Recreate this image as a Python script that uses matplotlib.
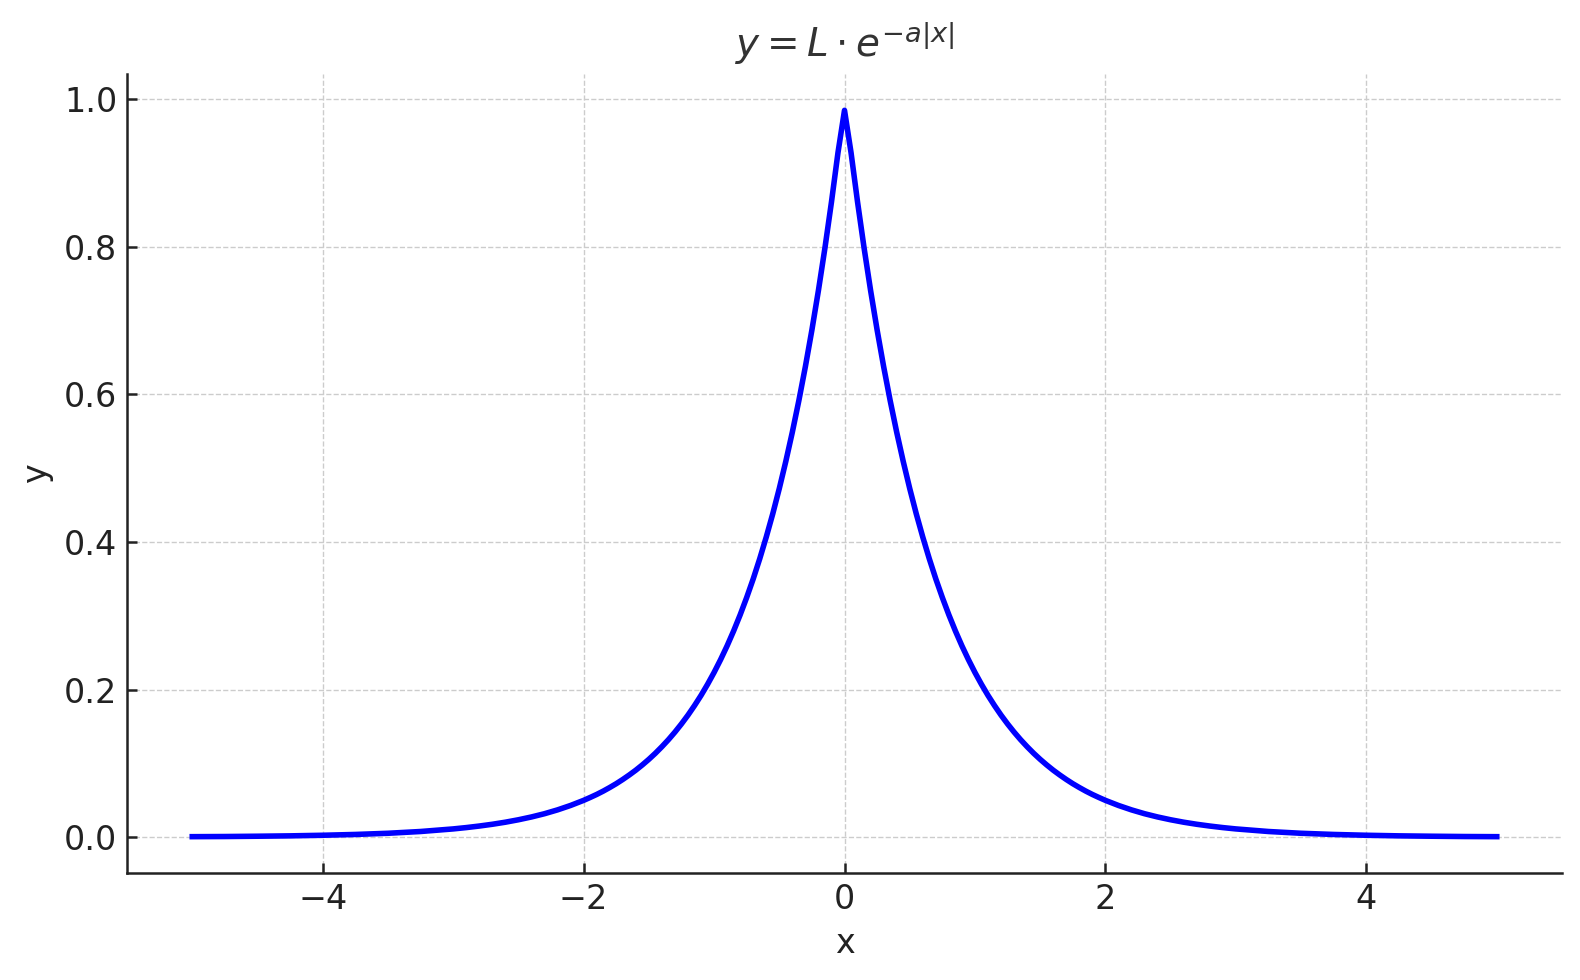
import matplotlib.pyplot as plt

# values (peak at x=0, symmetric decay)
x_vals = [-5.0, -4.75, -4.5, -4.25, -4.0, -3.75, -3.5, -3.25, -3.0, -2.9, -2.8, -2.7,
          -2.6, -2.5, -2.4, -2.3, -2.2, -2.1, -2.0, -1.95, -1.9, -1.85, -1.8, -1.75,
          -1.7, -1.65, -1.6, -1.55, -1.5, -1.45, -1.4, -1.35, -1.3, -1.25, -1.2, -1.15,
          -1.1, -1.05, -1.0, -0.95, -0.9, -0.85, -0.8, -0.75, -0.7, -0.65, -0.6, -0.55,
          -0.5, -0.45, -0.4, -0.35, -0.3, -0.25, -0.2, -0.15, -0.1, -0.05, 0.0,
          0.05, 0.1, 0.15, 0.2, 0.25, 0.3, 0.35, 0.4, 0.45, 0.5, 0.55, 0.6, 0.65, 0.7,
          0.75, 0.8, 0.85, 0.9, 0.95, 1.0, 1.05, 1.1, 1.15, 1.2, 1.25, 1.3, 1.35, 1.4,
          1.45, 1.5, 1.55, 1.6, 1.65, 1.7, 1.75, 1.8, 1.85, 1.9, 1.95, 2.0, 2.1, 2.2,
          2.3, 2.4, 2.5, 2.6, 2.7, 2.8, 2.9, 3.0, 3.25, 3.5, 3.75, 4.0, 4.25, 4.5,
          4.75, 5.0]
y_vals = [0.0006, 0.0008, 0.0012, 0.0017, 0.0025, 0.0036, 0.0052, 0.0076, 0.0111, 0.0129,
          0.0150, 0.0174, 0.0202, 0.0235, 0.0273, 0.0317, 0.0369, 0.0429, 0.0498, 0.0537,
          0.0578, 0.0623, 0.0672, 0.0724, 0.0781, 0.0842, 0.0907, 0.0978, 0.1054, 0.1136,
          0.1225, 0.1320, 0.1423, 0.1534, 0.1653, 0.1782, 0.1920, 0.2070, 0.2231, 0.2405,
          0.2592, 0.2794, 0.3012, 0.3247, 0.3499, 0.3772, 0.4066, 0.4382, 0.4724, 0.5092,
          0.5488, 0.5916, 0.6376, 0.6873, 0.7408, 0.7985, 0.8607, 0.9277, 0.985,
          0.9277, 0.8607, 0.7985, 0.7408, 0.6873, 0.6376, 0.5916, 0.5488, 0.5092, 0.4724,
          0.4382, 0.4066, 0.3772, 0.3499, 0.3247, 0.3012, 0.2794, 0.2592, 0.2405, 0.2231,
          0.2070, 0.1920, 0.1782, 0.1653, 0.1534, 0.1423, 0.1320, 0.1225, 0.1136, 0.1054,
          0.0978, 0.0907, 0.0842, 0.0781, 0.0724, 0.0672, 0.0623, 0.0578, 0.0537, 0.0498,
          0.0429, 0.0369, 0.0317, 0.0273, 0.0235, 0.0202, 0.0174, 0.0150, 0.0129, 0.0111,
          0.0076, 0.0052, 0.0036, 0.0025, 0.0017, 0.0012, 0.0008, 0.0006]

title_text = r'$y = L \cdot e^{-a|x|}$'
x_label = 'x'
y_label = 'y'

plt.rcParams['font.family'] = 'DejaVu Sans'
plt.rcParams['font.size'] = 12

fig = plt.figure(figsize=(7.9, 4.9), dpi=200)
ax = fig.add_subplot(111)
fig.subplots_adjust(left=0.0804, right=0.9886, top=0.9245, bottom=0.1092)

ax.plot(x_vals, y_vals, color='blue', linewidth=2)

ax.set_title(title_text, color='#333333', fontsize=14)
ax.set_xlabel(x_label, color='#222222')
ax.set_ylabel(y_label, color='#222222')
ax.set_xticks([-4, -2, 0, 2, 4])
ax.set_yticks([0.0, 0.2, 0.4, 0.6, 0.8, 1.0])

ax.spines['top'].set_visible(False)
ax.spines['right'].set_visible(False)
for s in ['left', 'bottom']:
    ax.spines[s].set_color('#222222')
    ax.spines[s].set_linewidth(0.9)
ax.tick_params(direction='in', length=3.5, width=0.9, colors='#222222', labelcolor='#222222')
ax.grid(True, linestyle='--', color='#cccccc', linewidth=0.5)
ax.set_axisbelow(True)

plt.savefig('out.png', dpi=200)
